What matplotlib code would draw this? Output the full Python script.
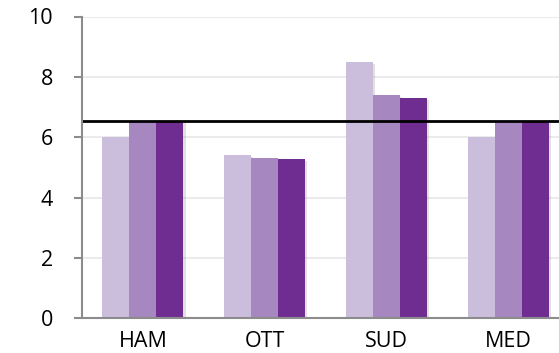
import numpy as np
import matplotlib.pyplot as plt
import matplotlib.patheffects as pe

regions = ['HAM', 'OTT', 'SUD', 'MED']
series_a = [6.02, 5.40, 8.50, 6.02]
series_b = [6.55, 5.32, 7.39, 6.55]
series_c = [6.55, 5.27, 7.29, 6.55]
reference = 6.55
colors = ['#CBBEDC', '#A787C0', '#6F2D91']

fig = plt.figure(figsize=(5.59, 3.53), dpi=100)
ax = fig.add_axes([82 / 559, 1 - 318.3 / 353, 487 / 559, (318.3 - 16.5) / 353])

x = np.arange(len(regions))
w = 0.222
shadow = [pe.SimplePatchShadow(offset=(1.5, -1.5), shadow_rgbFace='#888888', alpha=0.25),
          pe.Normal()]
for i, (vals, c) in enumerate(zip([series_a, series_b, series_c], colors)):
    bars = ax.bar(x + (i - 1) * w, vals, width=w, color=c, zorder=3)
    for b in bars:
        b.set_path_effects(shadow)

ax.axhline(reference, color='black', lw=2, zorder=4)

ax.set_xlim(-0.5, len(regions) - 0.5)
ax.set_ylim(0, 10)
ax.set_yticks(range(0, 11, 2))
ax.set_xticks(x)
ax.set_xticklabels(regions)
ax.yaxis.grid(True, color='#EBEBEB', lw=1.5, zorder=0)

for s in ['top', 'right']:
    ax.spines[s].set_visible(False)
for s in ['left', 'bottom']:
    ax.spines[s].set_color('#8C8C8C')
    ax.spines[s].set_linewidth(1.5)
    ax.spines[s].set_zorder(5)

ax.tick_params(axis='y', length=6, width=1.5, color='#8C8C8C', pad=15,
               labelsize=15.5)
ax.tick_params(axis='x', length=0, pad=9, labelsize=15.5)
for lab in ax.get_xticklabels() + ax.get_yticklabels():
    lab.set_fontfamily('Open Sans')

fig.savefig('out.png', dpi=100)
